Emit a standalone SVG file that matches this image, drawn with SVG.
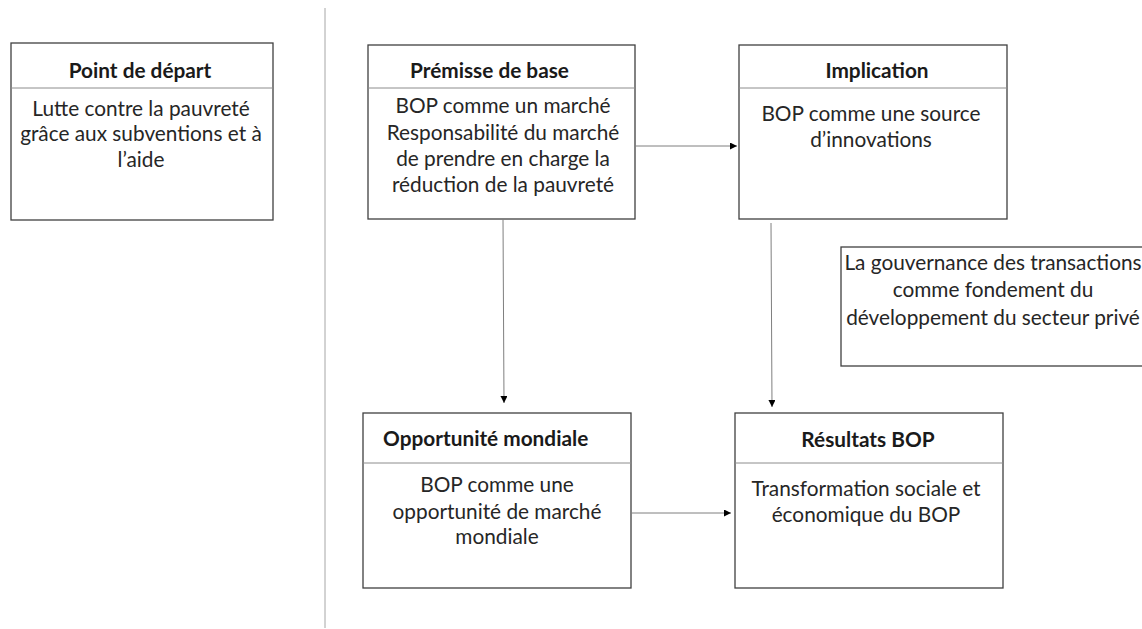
<svg xmlns="http://www.w3.org/2000/svg" width="1142" height="629" viewBox="0 0 1142 629">
<style>
.box{fill:#fff;stroke:#404040;stroke-width:1.3}
.div{stroke:#8c8c8c;stroke-width:1}
.t{font-family:Lato,"Liberation Sans",sans-serif;font-size:20.8px;fill:#262626;text-anchor:middle}
.h{font-family:Lato,"Liberation Sans",sans-serif;font-size:20.8px;font-weight:bold;fill:#1a1a1a}
.c{stroke:#7f7f7f;stroke-width:1;fill:none;marker-end:url(#ah)}
</style>
<defs>
<marker id="ah" viewBox="0 0 10 10" refX="10" refY="5" markerWidth="7" markerHeight="7" markerUnits="userSpaceOnUse" orient="auto">
<path d="M0,0 L10,5 L0,10 z" fill="#000"/>
</marker>
</defs>
<rect width="1142" height="629" fill="#fff"/>
<line x1="325" y1="8" x2="325" y2="628" stroke="#a6a6a6" stroke-width="1"/>
<g id="point-depart">
<rect class="box" x="11" y="43" width="262" height="177"/>
<line class="div" x1="11" y1="88" x2="273" y2="88"/>
<text class="h" x="140" y="78" text-anchor="middle">Point de départ</text>
<text class="t" x="141" y="116">Lutte contre la pauvreté</text>
<text class="t" x="141" y="141">grâce aux subventions et à</text>
<text class="t" x="141" y="167">l’aide</text>
</g>
<g id="premisse">
<rect class="box" x="368" y="45" width="267" height="174"/>
<line class="div" x1="368" y1="88" x2="635" y2="88"/>
<text class="h" x="410" y="78">Prémisse de base</text>
<text class="t" x="503" y="113">BOP comme un marché</text>
<text class="t" x="503" y="140">Responsabilité du marché</text>
<text class="t" x="503" y="166">de prendre en charge la</text>
<text class="t" x="503" y="192">réduction de la pauvreté</text>
</g>
<g id="implication">
<rect class="box" x="739" y="45" width="268" height="174"/>
<line class="div" x1="739" y1="88" x2="1007" y2="88"/>
<text class="h" x="877" y="78" text-anchor="middle">Implication</text>
<text class="t" x="871" y="121">BOP comme une source</text>
<text class="t" x="871" y="147">d’innovations</text>
</g>
<g id="gouvernance">
<rect class="box" x="841" y="247" width="306" height="119"/>
<text class="t" x="993" y="270">La gouvernance des transactions</text>
<text class="t" x="993" y="297">comme fondement du</text>
<text class="t" x="993" y="325">développement du secteur privé</text>
</g>
<g id="opportunite">
<rect class="box" x="363" y="413" width="268" height="175"/>
<line class="div" x1="363" y1="463" x2="631" y2="463"/>
<text class="h" x="383" y="446">Opportunité mondiale</text>
<text class="t" x="497" y="492">BOP comme une</text>
<text class="t" x="497" y="519">opportunité de marché</text>
<text class="t" x="497" y="544">mondiale</text>
</g>
<g id="resultats">
<rect class="box" x="735" y="413" width="268" height="175"/>
<line class="div" x1="735" y1="463" x2="1003" y2="463"/>
<text class="h" x="868" y="447" text-anchor="middle">Résultats BOP</text>
<text class="t" x="866" y="496">Transformation sociale et</text>
<text class="t" x="866" y="522">économique du BOP</text>
</g>
<g id="connectors">
<line class="c" x1="635" y1="146" x2="737" y2="146"/>
<line class="c" x1="503" y1="219" x2="504" y2="403"/>
<line class="c" x1="771" y1="223" x2="772" y2="407"/>
<line class="c" x1="631" y1="513" x2="731" y2="513"/>
</g>
</svg>
